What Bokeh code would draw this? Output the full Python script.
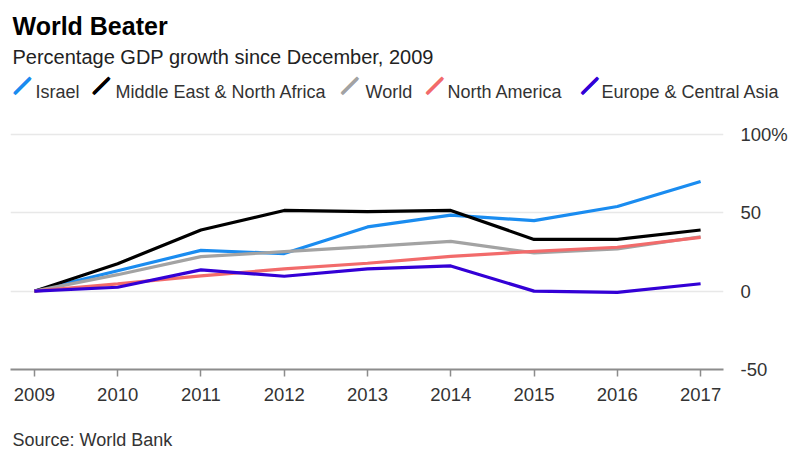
import math
from bokeh.plotting import figure
from bokeh.models import Label, FixedTicker, Range1d
from bokeh.layouts import column, row
from bokeh.embed import file_html
from bokeh.resources import INLINE

years = [2009, 2010, 2011, 2012, 2013, 2014, 2015, 2016, 2017]
israel = [0, 13, 26, 24, 41, 48.5, 45, 54, 70]
mena = [0, 17.5, 39, 51.5, 50.8, 51.5, 33, 33, 39]
world = [0, 10.5, 22, 25.2, 28.4, 31.8, 24.4, 27, 34.7]
north_america = [0, 4.7, 9.7, 14.2, 17.8, 22.2, 25.4, 28, 34.3]
europe = [0, 2.5, 13.6, 9.5, 14.2, 16.1, 0, -0.8, 4.7]

series_names = ["Israel", "Middle East & North Africa", "World", "North America", "Europe & Central Asia"]
series_values = [israel, mena, world, north_america, europe]
colors = ["#1a8cf0", "#000000", "#a3a3a3", "#f26b6b", "#3300d6"]

y_ticks = [-50, 0, 50, 100]
y_labels = {-50: "-50", 0: "0", 50: "50", 100: "100%"}

FONT = "Liberation Sans"
TXT = "#333333"
W = 790


def blank(height):
    f = figure(width=W, height=height, output_backend="svg", toolbar_location=None,
               x_range=Range1d(0, 1), y_range=Range1d(0, 1),
               x_axis_type=None, y_axis_type=None,
               min_border_left=0, min_border_right=0, min_border_top=0, min_border_bottom=0)
    f.grid.visible = False
    f.outline_line_color = None
    return f


def lab(f, x, y, text, size, color=TXT, style="normal", align="left", baseline="alphabetic",
        angle=0.0, outline=None):
    f.add_layout(Label(x=x, y=y, x_units="screen", y_units="screen", text=text,
                       text_font=FONT, text_font_size=size, text_color=color,
                       text_font_style=style, text_baseline=baseline, text_align=align,
                       angle=angle, text_outline_color=outline))


# header: title, subtitle, legend
head = blank(100)
lab(head, 12, 75, "World Beater", "25px", color="#000000", style="bold")
lab(head, 12, 44, "Percentage GDP growth since December, 2009", "20px", color="#222222")
slash_x = [20.5, 99.5, 348, 433, 588]
text_x = [35, 115, 365, 447, 601]
for sx, tx, name, c in zip(slash_x, text_x, series_names, colors):
    for dx, dy in ((-0.4, -0.4), (0.4, 0.4)):
        lab(head, sx + dx, 16 + dy, "\u2014", "21px", color=c, style="bold", align="center",
            baseline="middle", angle=math.radians(45), outline=c)
    lab(head, tx, 9, name, "18px")

# chart
p = figure(width=W, height=315, output_backend="svg", toolbar_location=None,
           x_range=Range1d(2008.713, 2017.275), y_range=Range1d(-50, 105.07),
           min_border_left=10, min_border_right=65, min_border_top=26, min_border_bottom=46,
           y_axis_location="right")
p.outline_line_color = None
p.background_fill_color = "white"
p.border_fill_color = "white"

for vals, c in zip(series_values, colors):
    p.line(years, vals, line_color=c, line_width=3.2)

xa = p.xaxis[0]
xa.ticker = FixedTicker(ticks=years)
xa.axis_line_color = "#8c8c8c"
xa.axis_line_width = 2
xa.major_tick_line_color = "#8c8c8c"
xa.major_tick_line_width = 1.5
xa.major_tick_out = 7
xa.major_tick_in = 0
xa.minor_tick_line_color = None
xa.major_label_standoff = 11
xa.major_label_text_font = FONT
xa.major_label_text_font_size = "18.5px"
xa.major_label_text_color = TXT

ya = p.yaxis[0]
ya.ticker = FixedTicker(ticks=y_ticks)
ya.major_label_overrides = y_labels
ya.axis_line_color = None
ya.major_tick_line_color = None
ya.minor_tick_line_color = None
ya.major_label_standoff = 11
ya.major_label_text_font = FONT
ya.major_label_text_font_size = "18.5px"
ya.major_label_text_color = TXT

p.xgrid.grid_line_color = None
p.ygrid.ticker = FixedTicker(ticks=[0, 50, 100])
p.ygrid.grid_line_color = "#e8e8e8"
p.ygrid.grid_line_width = 1.5

# footer: source
foot = blank(36)
lab(foot, 12, 12, "Source: World Bank", "18px")

layout = column(row(head), p, row(foot), spacing=0)
open("out.html", "w").write(file_html(layout, INLINE))
